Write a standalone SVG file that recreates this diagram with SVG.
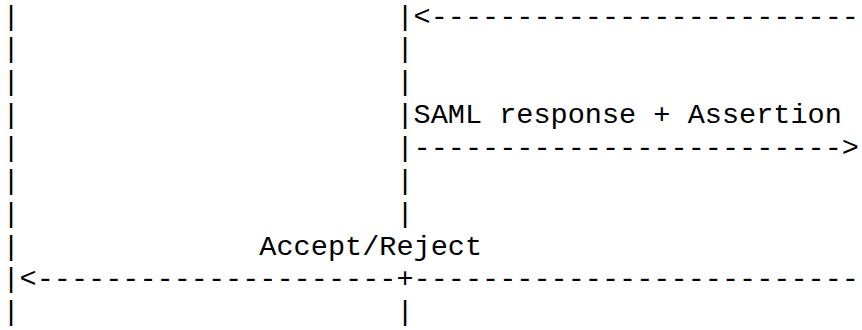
<svg xmlns="http://www.w3.org/2000/svg" width="862" height="330" viewBox="0 0 862 330">
  <style>
    .ln { font-family: "Courier New", "Nimbus Mono PS", "FreeMono", "Liberation Mono", monospace; font-size: 28.55px; fill: #000; white-space: pre; }
  </style>
  <rect width="862" height="330" fill="#fff"/>
  <!-- text sequence chart, one monospace row per line -->
  <g id="chart" xml:space="preserve">
    <text class="ln" x="2.4" y="24.6">|                      |&lt;-------------------------</text>
    <text class="ln" x="2.4" y="57.45">|                      |</text>
    <text class="ln" x="2.4" y="90.3">|                      |</text>
    <text class="ln" x="2.4" y="123.15">|                      |SAML response + Assertion</text>
    <text class="ln" x="2.4" y="156">|                      |-------------------------&gt;</text>
    <text class="ln" x="2.4" y="188.85">|                      |</text>
    <text class="ln" x="2.4" y="221.7">|                      |</text>
    <text class="ln" x="2.4" y="254.55">|              Accept/Reject</text>
    <text class="ln" x="2.4" y="287.4">|&lt;---------------------+--------------------------</text>
    <text class="ln" x="2.4" y="320.25">|                      |</text>
  </g>
</svg>
